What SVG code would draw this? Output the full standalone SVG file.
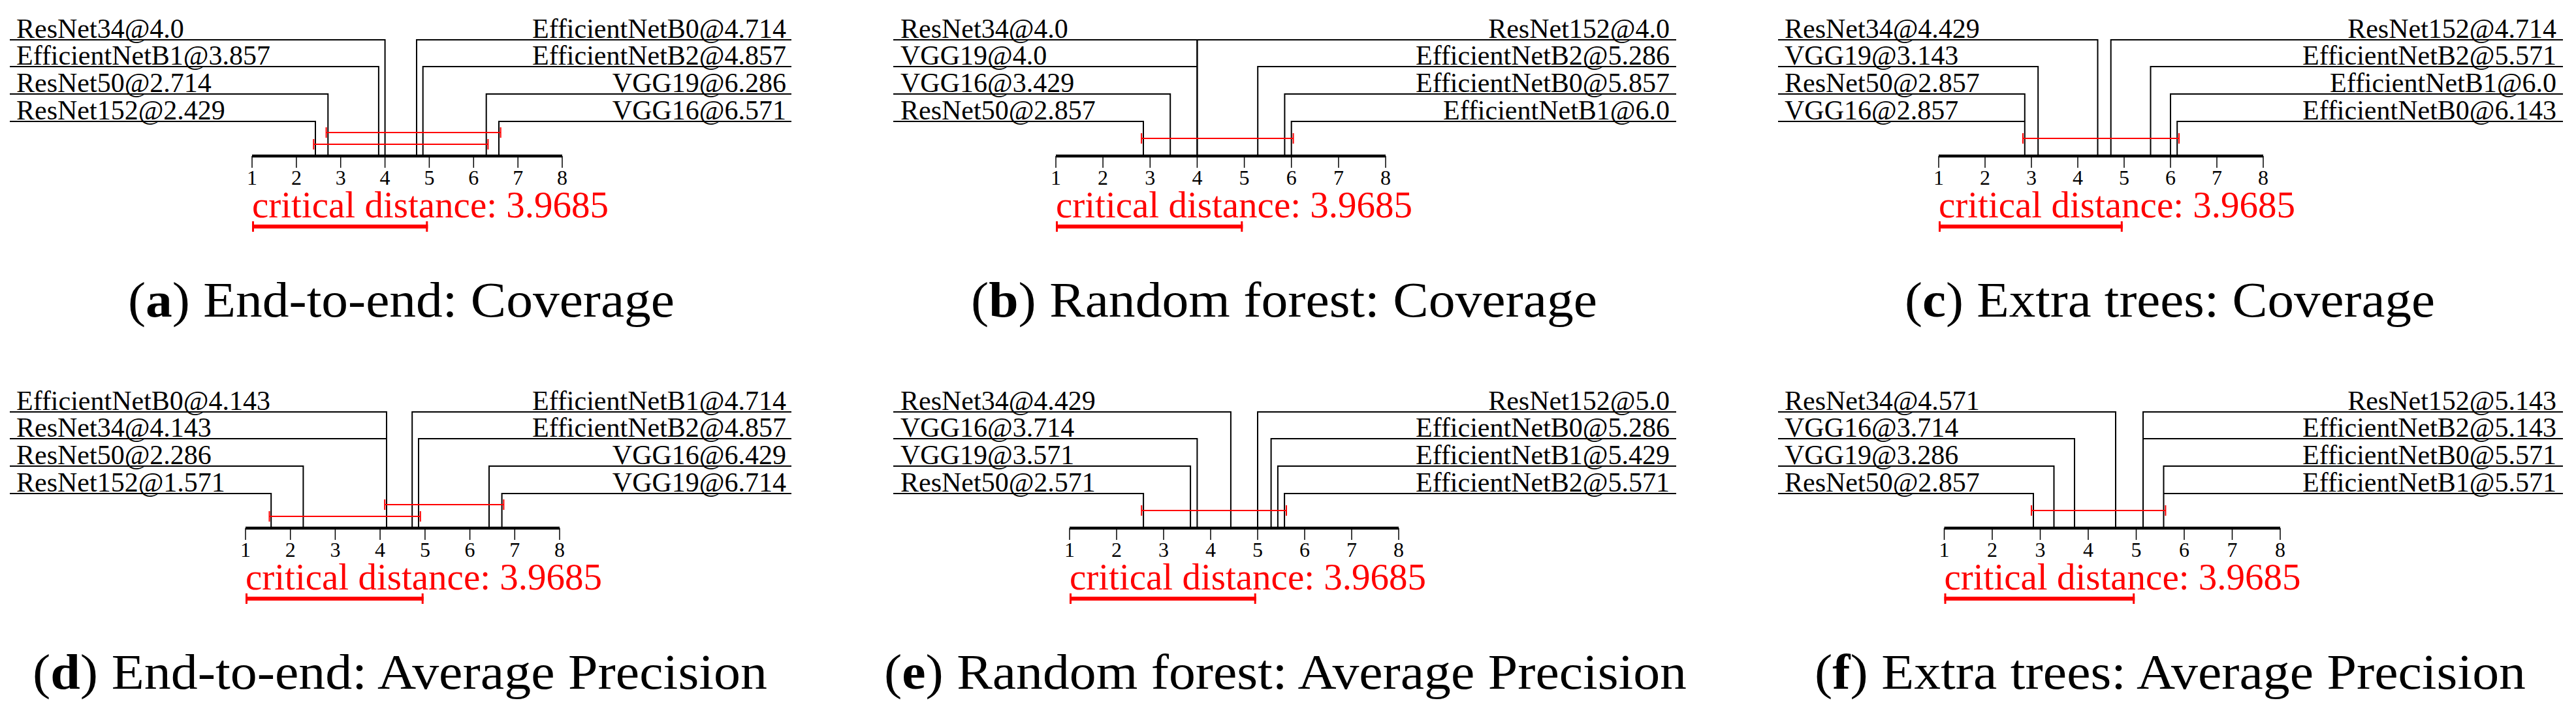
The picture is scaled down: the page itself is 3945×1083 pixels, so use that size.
<svg xmlns="http://www.w3.org/2000/svg" width="3945" height="1083" viewBox="0 0 3945 1083">
<style>
text{font-family:"Liberation Serif","DejaVu Serif",serif}
.lb{font-size:42px;fill:#000}
.rt{text-anchor:end}
.n{font-size:32px;text-anchor:middle}
.cdt{font-size:57px;fill:#f00}
.cap{font-size:76px}
.l{fill:none;stroke:#000;stroke-width:2}
.ax{stroke:#000;stroke-width:4.5}
.tk{stroke:#000;stroke-width:1.5}
.r{stroke:#f00;stroke-width:2;fill:none}
.cb{stroke:#f00;stroke-width:6}
.cc{stroke:#f00;stroke-width:3}
</style>
<rect width="3945" height="1083" fill="#fff"/>
<defs>
<g id="tk">
<line class="tk" x1="0" y1="239" x2="0" y2="257"/>
</g>
</defs>

<g id="panel-a">
<g class="connectors">
<path class="l" d="M15 61H589.6V239M15 102H579.9V239M15 144H502.3V239M15 186H483V239"/>
<path class="l" d="M1212 61H638V239M1212 102H647.7V239M1212 144H744.7V239M1212 186H764V239"/>
<path class="r" d="M499.6 203H766.7M499.6 195V211M766.7 195V211M480.3 221H747.4M480.3 213V229M747.4 213V229"/>
</g>
<text class="lb" x="25" y="58">ResNet34@4.0</text><text class="lb" x="25" y="99">EfficientNetB1@3.857</text><text class="lb" x="25" y="141">ResNet50@2.714</text><text class="lb" x="25" y="183">ResNet152@2.429</text>
<text class="lb rt" x="1204" y="58">EfficientNetB0@4.714</text><text class="lb rt" x="1204" y="99">EfficientNetB2@4.857</text><text class="lb rt" x="1204" y="141">VGG19@6.286</text><text class="lb rt" x="1204" y="183">VGG16@6.571</text>
<line class="ax" x1="386" y1="239" x2="861" y2="239"/>
<use href="#tk" x="386"/><use href="#tk" x="453.9"/><use href="#tk" x="521.7"/><use href="#tk" x="589.6"/><use href="#tk" x="657.4"/><use href="#tk" x="725.3"/><use href="#tk" x="793.2"/><use href="#tk" x="861"/>
<text class="n" x="386" y="283">1</text><text class="n" x="453.9" y="283">2</text><text class="n" x="521.7" y="283">3</text><text class="n" x="589.6" y="283">4</text><text class="n" x="657.4" y="283">5</text><text class="n" x="725.3" y="283">6</text><text class="n" x="793.2" y="283">7</text><text class="n" x="861" y="283">8</text>
<text class="cdt" x="386" y="333" textLength="546" lengthAdjust="spacingAndGlyphs">critical distance: 3.9685</text>
<line class="cb" x1="386" y1="347" x2="655.3" y2="347"/><path class="cc" d="M387.5 339V355M653.8 339V355"/>
<text class="cap" x="196" y="485" textLength="837" lengthAdjust="spacingAndGlyphs">(<tspan font-weight="bold">a</tspan>) End-to-end: Coverage</text>
</g>

<g id="panel-b">
<g class="connectors">
<path class="l" d="M1368 61H1833.4V239M1368 102H1833.4V239M1368 144H1792.2V239M1368 186H1751V239"/>
<path class="l" d="M2567 61H1833.4V239M2567 102H1926.2V239M2567 144H1967.4V239M2567 186H1977.7V239"/>
<path class="r" d="M1748.1 212H1980.6M1748.1 204V220M1980.6 204V220"/>
</g>
<text class="lb" x="1379" y="58">ResNet34@4.0</text><text class="lb" x="1379" y="99">VGG19@4.0</text><text class="lb" x="1379" y="141">VGG16@3.429</text><text class="lb" x="1379" y="183">ResNet50@2.857</text>
<text class="lb rt" x="2557" y="58">ResNet152@4.0</text><text class="lb rt" x="2557" y="99">EfficientNetB2@5.286</text><text class="lb rt" x="2557" y="141">EfficientNetB0@5.857</text><text class="lb rt" x="2557" y="183">EfficientNetB1@6.0</text>
<line class="ax" x1="1617" y1="239" x2="2122" y2="239"/>
<use href="#tk" x="1617"/><use href="#tk" x="1689.1"/><use href="#tk" x="1761.3"/><use href="#tk" x="1833.4"/><use href="#tk" x="1905.6"/><use href="#tk" x="1977.7"/><use href="#tk" x="2049.9"/><use href="#tk" x="2122"/>
<text class="n" x="1617" y="283">1</text><text class="n" x="1689.1" y="283">2</text><text class="n" x="1761.3" y="283">3</text><text class="n" x="1833.4" y="283">4</text><text class="n" x="1905.6" y="283">5</text><text class="n" x="1977.7" y="283">6</text><text class="n" x="2049.9" y="283">7</text><text class="n" x="2122" y="283">8</text>
<text class="cdt" x="1617" y="333" textLength="546" lengthAdjust="spacingAndGlyphs">critical distance: 3.9685</text>
<line class="cb" x1="1617" y1="347" x2="1903.3" y2="347"/><path class="cc" d="M1618.5 339V355M1901.8 339V355"/>
<text class="cap" x="1487" y="485" textLength="959" lengthAdjust="spacingAndGlyphs">(<tspan font-weight="bold">b</tspan>) Random forest: Coverage</text>
</g>

<g id="panel-c">
<g class="connectors">
<path class="l" d="M2723 61H3212.5V239M2723 102H3121.2V239M2723 144H3100.8V239M2723 186H3100.8V239"/>
<path class="l" d="M3925 61H3232.7V239M3925 102H3293.5V239M3925 144H3324V239M3925 186H3334.2V239"/>
<path class="r" d="M3098 212H3337M3098 204V220M3337 204V220"/>
</g>
<text class="lb" x="2733" y="58">ResNet34@4.429</text><text class="lb" x="2733" y="99">VGG19@3.143</text><text class="lb" x="2733" y="141">ResNet50@2.857</text><text class="lb" x="2733" y="183">VGG16@2.857</text>
<text class="lb rt" x="3915" y="58">ResNet152@4.714</text><text class="lb rt" x="3915" y="99">EfficientNetB2@5.571</text><text class="lb rt" x="3915" y="141">EfficientNetB1@6.0</text><text class="lb rt" x="3915" y="183">EfficientNetB0@6.143</text>
<line class="ax" x1="2969" y1="239" x2="3466" y2="239"/>
<use href="#tk" x="2969"/><use href="#tk" x="3040"/><use href="#tk" x="3111"/><use href="#tk" x="3182"/><use href="#tk" x="3253"/><use href="#tk" x="3324"/><use href="#tk" x="3395"/><use href="#tk" x="3466"/>
<text class="n" x="2969" y="283">1</text><text class="n" x="3040" y="283">2</text><text class="n" x="3111" y="283">3</text><text class="n" x="3182" y="283">4</text><text class="n" x="3253" y="283">5</text><text class="n" x="3324" y="283">6</text><text class="n" x="3395" y="283">7</text><text class="n" x="3466" y="283">8</text>
<text class="cdt" x="2969" y="333" textLength="546" lengthAdjust="spacingAndGlyphs">critical distance: 3.9685</text>
<line class="cb" x1="2969" y1="347" x2="3250.8" y2="347"/><path class="cc" d="M2970.5 339V355M3249.3 339V355"/>
<text class="cap" x="2917" y="485" textLength="812" lengthAdjust="spacingAndGlyphs">(<tspan font-weight="bold">c</tspan>) Extra trees: Coverage</text>
</g>

<g id="panel-d" transform="translate(0,570)">
<g class="connectors">
<path class="l" d="M15 61H592V239M15 102H592V239M15 144H464.4V239M15 186H415.2V239"/>
<path class="l" d="M1212 61H631.2V239M1212 102H641V239M1212 144H749V239M1212 186H768.6V239"/>
<path class="r" d="M589.2 203H771.4M589.2 195V211M771.4 195V211M412.5 221H643.8M412.5 213V229M643.8 213V229"/>
</g>
<text class="lb" x="25" y="58">EfficientNetB0@4.143</text><text class="lb" x="25" y="99">ResNet34@4.143</text><text class="lb" x="25" y="141">ResNet50@2.286</text><text class="lb" x="25" y="183">ResNet152@1.571</text>
<text class="lb rt" x="1204" y="58">EfficientNetB1@4.714</text><text class="lb rt" x="1204" y="99">EfficientNetB2@4.857</text><text class="lb rt" x="1204" y="141">VGG16@6.429</text><text class="lb rt" x="1204" y="183">VGG19@6.714</text>
<line class="ax" x1="376" y1="239" x2="857" y2="239"/>
<use href="#tk" x="376"/><use href="#tk" x="444.7"/><use href="#tk" x="513.4"/><use href="#tk" x="582.1"/><use href="#tk" x="650.9"/><use href="#tk" x="719.6"/><use href="#tk" x="788.3"/><use href="#tk" x="857"/>
<text class="n" x="376" y="283">1</text><text class="n" x="444.7" y="283">2</text><text class="n" x="513.4" y="283">3</text><text class="n" x="582.1" y="283">4</text><text class="n" x="650.9" y="283">5</text><text class="n" x="719.6" y="283">6</text><text class="n" x="788.3" y="283">7</text><text class="n" x="857" y="283">8</text>
<text class="cdt" x="376" y="333" textLength="546" lengthAdjust="spacingAndGlyphs">critical distance: 3.9685</text>
<line class="cb" x1="376" y1="347" x2="648.7" y2="347"/><path class="cc" d="M377.5 339V355M647.2 339V355"/>
<text class="cap" x="50" y="485" textLength="1125" lengthAdjust="spacingAndGlyphs">(<tspan font-weight="bold">d</tspan>) End-to-end: Average Precision</text>
</g>

<g id="panel-e" transform="translate(0,570)">
<g class="connectors">
<path class="l" d="M1368 61H1884.9V239M1368 102H1833.4V239M1368 144H1823.1V239M1368 186H1751.1V239"/>
<path class="l" d="M2567 61H1926V239M2567 102H1946.6V239M2567 144H1956.9V239M2567 186H1967.1V239"/>
<path class="r" d="M1748.2 212H1970M1748.2 204V220M1970 204V220"/>
</g>
<text class="lb" x="1379" y="58">ResNet34@4.429</text><text class="lb" x="1379" y="99">VGG16@3.714</text><text class="lb" x="1379" y="141">VGG19@3.571</text><text class="lb" x="1379" y="183">ResNet50@2.571</text>
<text class="lb rt" x="2557" y="58">ResNet152@5.0</text><text class="lb rt" x="2557" y="99">EfficientNetB0@5.286</text><text class="lb rt" x="2557" y="141">EfficientNetB1@5.429</text><text class="lb rt" x="2557" y="183">EfficientNetB2@5.571</text>
<line class="ax" x1="1638" y1="239" x2="2142" y2="239"/>
<use href="#tk" x="1638"/><use href="#tk" x="1710"/><use href="#tk" x="1782"/><use href="#tk" x="1854"/><use href="#tk" x="1926"/><use href="#tk" x="1998"/><use href="#tk" x="2070"/><use href="#tk" x="2142"/>
<text class="n" x="1638" y="283">1</text><text class="n" x="1710" y="283">2</text><text class="n" x="1782" y="283">3</text><text class="n" x="1854" y="283">4</text><text class="n" x="1926" y="283">5</text><text class="n" x="1998" y="283">6</text><text class="n" x="2070" y="283">7</text><text class="n" x="2142" y="283">8</text>
<text class="cdt" x="1638" y="333" textLength="546" lengthAdjust="spacingAndGlyphs">critical distance: 3.9685</text>
<line class="cb" x1="1638" y1="347" x2="1923.7" y2="347"/><path class="cc" d="M1639.5 339V355M1922.2 339V355"/>
<text class="cap" x="1354" y="485" textLength="1229" lengthAdjust="spacingAndGlyphs">(<tspan font-weight="bold">e</tspan>) Random forest: Average Precision</text>
</g>

<g id="panel-f" transform="translate(0,570)">
<g class="connectors">
<path class="l" d="M2723 61H3240V239M2723 102H3177V239M2723 144H3145.5V239M2723 186H3114V239"/>
<path class="l" d="M3925 61H3282V239M3925 102H3282V239M3925 144H3313.5V239M3925 186H3313.5V239"/>
<path class="r" d="M3111 212H3316.4M3111 204V220M3316.4 204V220"/>
</g>
<text class="lb" x="2733" y="58">ResNet34@4.571</text><text class="lb" x="2733" y="99">VGG16@3.714</text><text class="lb" x="2733" y="141">VGG19@3.286</text><text class="lb" x="2733" y="183">ResNet50@2.857</text>
<text class="lb rt" x="3915" y="58">ResNet152@5.143</text><text class="lb rt" x="3915" y="99">EfficientNetB2@5.143</text><text class="lb rt" x="3915" y="141">EfficientNetB0@5.571</text><text class="lb rt" x="3915" y="183">EfficientNetB1@5.571</text>
<line class="ax" x1="2977.5" y1="239" x2="3492" y2="239"/>
<use href="#tk" x="2977.5"/><use href="#tk" x="3051"/><use href="#tk" x="3124.5"/><use href="#tk" x="3198"/><use href="#tk" x="3271.5"/><use href="#tk" x="3345"/><use href="#tk" x="3418.5"/><use href="#tk" x="3492"/>
<text class="n" x="2977.5" y="283">1</text><text class="n" x="3051" y="283">2</text><text class="n" x="3124.5" y="283">3</text><text class="n" x="3198" y="283">4</text><text class="n" x="3271.5" y="283">5</text><text class="n" x="3345" y="283">6</text><text class="n" x="3418.5" y="283">7</text><text class="n" x="3492" y="283">8</text>
<text class="cdt" x="2977.5" y="333" textLength="546" lengthAdjust="spacingAndGlyphs">critical distance: 3.9685</text>
<line class="cb" x1="2977.5" y1="347" x2="3269.2" y2="347"/><path class="cc" d="M2979 339V355M3267.7 339V355"/>
<text class="cap" x="2779" y="485" textLength="1089" lengthAdjust="spacingAndGlyphs">(<tspan font-weight="bold">f</tspan>) Extra trees: Average Precision</text>
</g>
</svg>
